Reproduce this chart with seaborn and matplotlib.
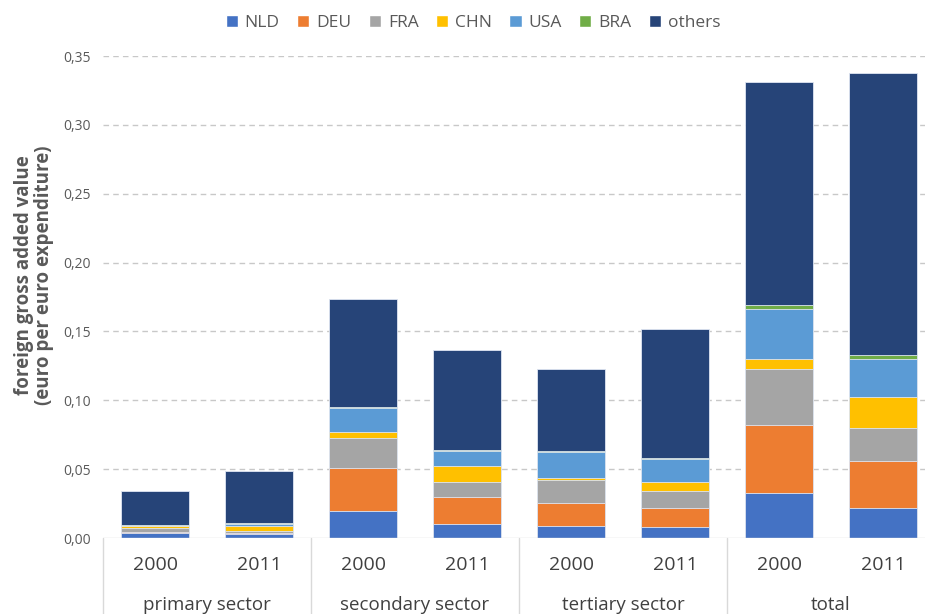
import pandas as pd
import matplotlib
matplotlib.use('Agg')
import matplotlib.pyplot as plt
import seaborn as sns
from matplotlib.patches import Patch

# data (euro per euro expenditure)
sectors = ['primary sector', 'secondary sector', 'tertiary sector', 'total']
years = ['2000', '2011']
countries = ['NLD', 'DEU', 'FRA', 'CHN', 'USA', 'BRA', 'others']

# order of bars: primary 2000, primary 2011, secondary 2000, ...
nld = [0.0034, 0.0027, 0.0198, 0.0102, 0.0089, 0.0078, 0.0329, 0.0216]
deu = [0.0012, 0.0012, 0.0313, 0.0193, 0.0165, 0.0140, 0.0491, 0.0343]
fra = [0.0024, 0.0012, 0.0215, 0.0110, 0.0165, 0.0123, 0.0405, 0.0242]
chn = [0.0015, 0.0034, 0.0046, 0.0120, 0.0020, 0.0068, 0.0077, 0.0223]
usa = [0.0005, 0.0015, 0.0172, 0.0107, 0.0184, 0.0162, 0.0358, 0.0274]
bra = [0.0007, 0.0012, 0.0007, 0.0009, 0.0008, 0.0012, 0.0030, 0.0033]
others = [0.0243, 0.0377, 0.0785, 0.0724, 0.0595, 0.0937, 0.1620, 0.2046]

colors = ['#4472C4', '#ED7D31', '#A5A5A5', '#FFC000', '#5B9BD5', '#70AD47', '#264478']

bar_ids = [f'{s} {y}' for s in sectors for y in years]
df = pd.DataFrame({'bar': bar_ids, 'NLD': nld, 'DEU': deu, 'FRA': fra, 'CHN': chn,
                   'USA': usa, 'BRA': bra, 'others': others})
cum = df[countries].cumsum(axis=1)

sns.set_style('white')
plt.rcParams['font.family'] = ['Open Sans', 'DejaVu Sans']

fig = plt.figure(figsize=(9.25, 6.14), dpi=100)
ax = fig.add_axes([103 / 925, 1 - 538 / 614, 832 / 925, 482 / 614])

# stacked bars: draw cumulative totals from the top series down
for c, col in reversed(list(zip(countries, colors))):
    sns.barplot(x=df['bar'], y=cum[c], order=bar_ids, color=col, width=0.66,
                saturation=1, edgecolor='#dfe6f2', linewidth=0.6, ax=ax, zorder=3)

ax.set_xlim(-0.5, 7.5)
ax.set_ylim(0, 0.35)
yt = [0, 0.05, 0.10, 0.15, 0.20, 0.25, 0.30, 0.35]
ax.set_yticks(yt)
ax.set_yticklabels([f'{v:.2f}'.replace('.', ',') for v in yt], color='#595959', fontsize=10)
ax.tick_params(axis='y', length=0, pad=9)
ax.set_xticks([])
ax.set_xlabel('')
ax.set_ylabel('')
fig.text(34 / 925, 1 - 275 / 614, 'foreign gross added value\n(euro per euro expenditure)',
         rotation=90, ha='center', va='center', fontsize=13.5, fontweight='bold',
         color='#595959', linespacing=1.05)
for v in yt[1:]:
    ax.axhline(v, color='#c8c8c8', lw=1, ls=(0, (4, 3)), zorder=1)
for s in ax.spines.values():
    s.set_visible(False)
ax.axhline(0, color='#d9d9d9', lw=1, zorder=4)

# category axis: years, sectors and separators below the plot
trans = ax.get_xaxis_transform()
for i, b in enumerate(bar_ids):
    ax.text(i, -0.056, b.split()[-1], transform=trans, ha='center', va='center',
            fontsize=14, color='#404040')
for j, s in enumerate(sectors):
    ax.text(2 * j + 0.5, -0.139, s, transform=trans, ha='center', va='center',
            fontsize=13.5, color='#404040')
for j in range(len(sectors) + 1):
    ax.plot([2 * j - 0.5, 2 * j - 0.5], [0, -0.2], transform=trans, color='#d9d9d9',
            lw=1, clip_on=False)

handles = [Patch(facecolor=col, label=c) for c, col in zip(countries, colors)]
fig.legend(handles=handles, loc='center', bbox_to_anchor=(473 / 925, 1 - 23 / 614), ncol=7,
           frameon=False, fontsize=12.5, handlelength=0.7, handleheight=0.7,
           handletextpad=0.4, columnspacing=1.0, labelcolor='#595959')

fig.savefig('out.png', dpi=100)
